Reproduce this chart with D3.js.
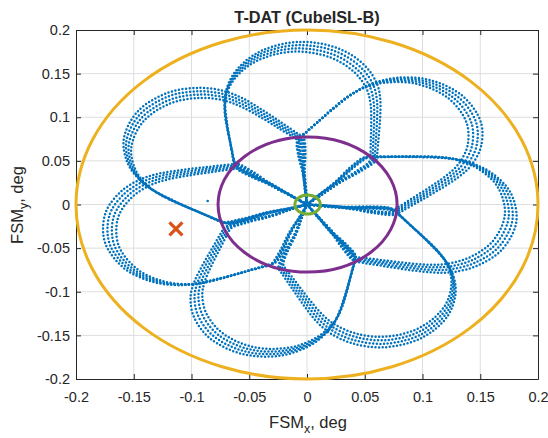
<!DOCTYPE html>
<html>
<head>
<meta charset="utf-8">
<title>T-DAT (CubeISL-B)</title>
<script src="https://cdn.jsdelivr.net/npm/d3@7"></script>
<style>
  body { margin: 0; background: #fff; }
  text { font-family: "Liberation Sans", Arial, Helvetica, sans-serif; fill: #262626; }
</style>
</head>
<body>
<svg id="chart"></svg>
<script>
  // ---- data ----
  var X_TICKS = [-0.2, -0.15, -0.1, -0.05, 0, 0.05, 0.1, 0.15, 0.2];
  var Y_TICKS = [-0.2, -0.15, -0.1, -0.05, 0, 0.05, 0.1, 0.15, 0.2];

  // rosette scan: one lobe per tip direction (deg) with its outer radius (deg of FSM)
  var PETAL_TIP_DEG = [93, 44, -5, -56, -107, -165, 145];
  var PETAL_TIP_R = [0.181, 0.178, 0.177, 0.177, 0.175, 0.175, 0.176];

  // lobe outline measured on the picture: angle from tip (deg), radius / tip radius
  // (stem out along the spoke, straight side wall, round cap, wall, stem back)
  var PROFILE_DEG = [-51, -51.5, -50.5, -52.5, -51.6, -48.2, -40.8, -34.4, -29.4, -25.4, -19.2, -10.7, 0,
                     10.7, 19.2, 25.4, 29.4, 34.4, 40.8, 48.2, 51.6, 52.5, 50.5, 51.5, 51];
  var PROFILE_R = [0, 0.09, 0.2, 0.33, 0.421, 0.45, 0.528, 0.63, 0.734, 0.811, 0.896, 0.969, 1,
                   0.969, 0.896, 0.811, 0.734, 0.63, 0.528, 0.45, 0.421, 0.33, 0.2, 0.09, 0];

  // the scan was repeated: passes sit slightly apart (radius factor, twist in deg)
  var PASS_SCALE = [0.97, 0.99, 1.01, 1.03];
  var PASS_TWIST = [1.2, 0.4, -0.4, -1.2];

  var STRAY_POINTS = [[-0.086, 0.004]];

  // reference circles: radius and centre
  var RING_R = [0.2, 0.0775, 0.011];
  var RING_CX = [0, 0.0005, 0.0005];
  var RING_CY = [0, 0, 0];

  var MARK_X = [-0.1135];
  var MARK_Y = [-0.028];

  // ---- layout ----
  var width = 548, height = 438;
  var plotL = 76, plotR = 538, plotT = 30, plotB = 379;

  var ringColors = ["#EDB120", "#7E2F8E", "#77AC30"];

  var svg = d3.select("#chart")
    .attr("width", width)
    .attr("height", height);

  var x = d3.scaleLinear().domain([-0.2, 0.2]).range([plotL, plotR]);
  var y = d3.scaleLinear().domain([-0.2, 0.2]).range([plotB, plotT]);

  var fmt = d => String(+d.toFixed(2));

  // grid
  var grid = svg.append("g");
  grid.selectAll(".gx")
    .data(X_TICKS.slice(1, -1)).enter()
    .append("line")
    .attr("x1", d => x(d)).attr("x2", d => x(d))
    .attr("y1", plotT).attr("y2", plotB)
    .attr("stroke", "#dedede").attr("stroke-width", 1);
  grid.selectAll(".gy")
    .data(Y_TICKS.slice(1, -1)).enter()
    .append("line")
    .attr("y1", d => y(d)).attr("y2", d => y(d))
    .attr("x1", plotL).attr("x2", plotR)
    .attr("stroke", "#dedede").attr("stroke-width", 1);

  // axes (MATLAB style box, ticks inward)
  function styleAxis(g) {
    g.attr("font-family", null).attr("font-size", null);
    g.select(".domain").attr("stroke", "#262626").attr("stroke-width", 1);
    g.selectAll(".tick line").attr("stroke", "#262626").attr("stroke-width", 1);
    g.selectAll("text").style("font-size", "14.5px").attr("fill", "#262626");
  }

  var gx = svg.append("g")
    .attr("transform", "translate(0," + plotB + ")")
    .call(d3.axisBottom(x).tickValues(X_TICKS).tickSizeInner(-5).tickSizeOuter(0).tickFormat(fmt))
    .call(styleAxis);
  gx.selectAll("text").attr("y", 23).attr("dy", null);

  var gy = svg.append("g")
    .attr("transform", "translate(" + plotL + ",0)")
    .call(d3.axisLeft(y).tickValues(Y_TICKS).tickSizeInner(-5).tickSizeOuter(0).tickFormat(fmt))
    .call(styleAxis);
  gy.selectAll("text").attr("x", -6);

  svg.append("g")
    .attr("transform", "translate(0," + plotT + ")")
    .call(d3.axisTop(x).tickValues(X_TICKS).tickSizeInner(-5).tickSizeOuter(0).tickFormat(""))
    .call(styleAxis);

  svg.append("g")
    .attr("transform", "translate(" + plotR + ",0)")
    .call(d3.axisRight(y).tickValues(Y_TICKS).tickSizeInner(-5).tickSizeOuter(0).tickFormat(""))
    .call(styleAxis);

  // ---- rosette: dotted tracks ----
  var line = d3.line()
    .x(d => x(d[0]))
    .y(d => y(d[1]))
    .curve(d3.curveCatmullRom.alpha(0.5));

  var tracks = [];
  PETAL_TIP_DEG.forEach(function(tip, i) {
    PASS_SCALE.forEach(function(s, p) {
      var pts = PROFILE_DEG.map(function(a, j) {
        var th = (tip + a + PASS_TWIST[p]) * Math.PI / 180;
        var r = PETAL_TIP_R[i] * PROFILE_R[j] * s;
        return [r * Math.cos(th), r * Math.sin(th)];
      });
      tracks.push(pts);
    });
  });

  svg.append("g").selectAll("path")
    .data(tracks).enter()
    .append("path")
    .attr("d", line)
    .attr("fill", "none")
    .attr("stroke", "#0072BD")
    .attr("stroke-width", 2.5)
    .attr("stroke-linecap", "round")
    .attr("stroke-dasharray", "0 3.6");

  svg.append("g").selectAll("circle")
    .data(STRAY_POINTS).enter()
    .append("circle")
    .attr("cx", d => x(d[0]))
    .attr("cy", d => y(d[1]))
    .attr("r", 1.3)
    .attr("fill", "#0072BD");

  // ---- circles ----
  svg.append("g").selectAll("ellipse")
    .data(RING_R).enter()
    .append("ellipse")
    .attr("cx", (d, i) => x(RING_CX[i]))
    .attr("cy", (d, i) => y(RING_CY[i]))
    .attr("rx", d => x(d) - x(0))
    .attr("ry", d => y(0) - y(d))
    .attr("fill", "none")
    .attr("stroke", (d, i) => ringColors[i])
    .attr("stroke-width", 3);

  // ---- cross marker ----
  svg.append("g").selectAll("path")
    .data(MARK_X).enter()
    .append("path")
    .attr("transform", (d, i) => "translate(" + x(d) + "," + y(MARK_Y[i]) + ")")
    .attr("d", "M-6.5,-6.5L6.5,6.5M-6.5,6.5L6.5,-6.5")
    .attr("stroke", "#D95319")
    .attr("stroke-width", 3.2);

  // ---- labels ----
  svg.append("text")
    .attr("x", (plotL + plotR) / 2)
    .attr("y", 22.5)
    .attr("text-anchor", "middle")
    .style("font-size", "16.3px")
    .style("font-weight", "bold")
    .attr("fill", "#000")
    .text("T-DAT (CubeISL-B)");

  var xl = svg.append("text")
    .attr("x", 308)
    .attr("y", 428)
    .attr("text-anchor", "middle")
    .style("font-size", "16.5px");
  xl.append("tspan").text("FSM");
  xl.append("tspan").attr("dy", 5).style("font-size", "12.5px").text("x");
  xl.append("tspan").attr("dy", -5).text(", deg");

  var yl = svg.append("text")
    .attr("transform", "translate(23,205) rotate(-90)")
    .attr("text-anchor", "middle")
    .style("font-size", "16.5px");
  yl.append("tspan").text("FSM");
  yl.append("tspan").attr("dy", 5).style("font-size", "12.5px").text("y");
  yl.append("tspan").attr("dy", -5).text(", deg");
</script>
</body>
</html>
